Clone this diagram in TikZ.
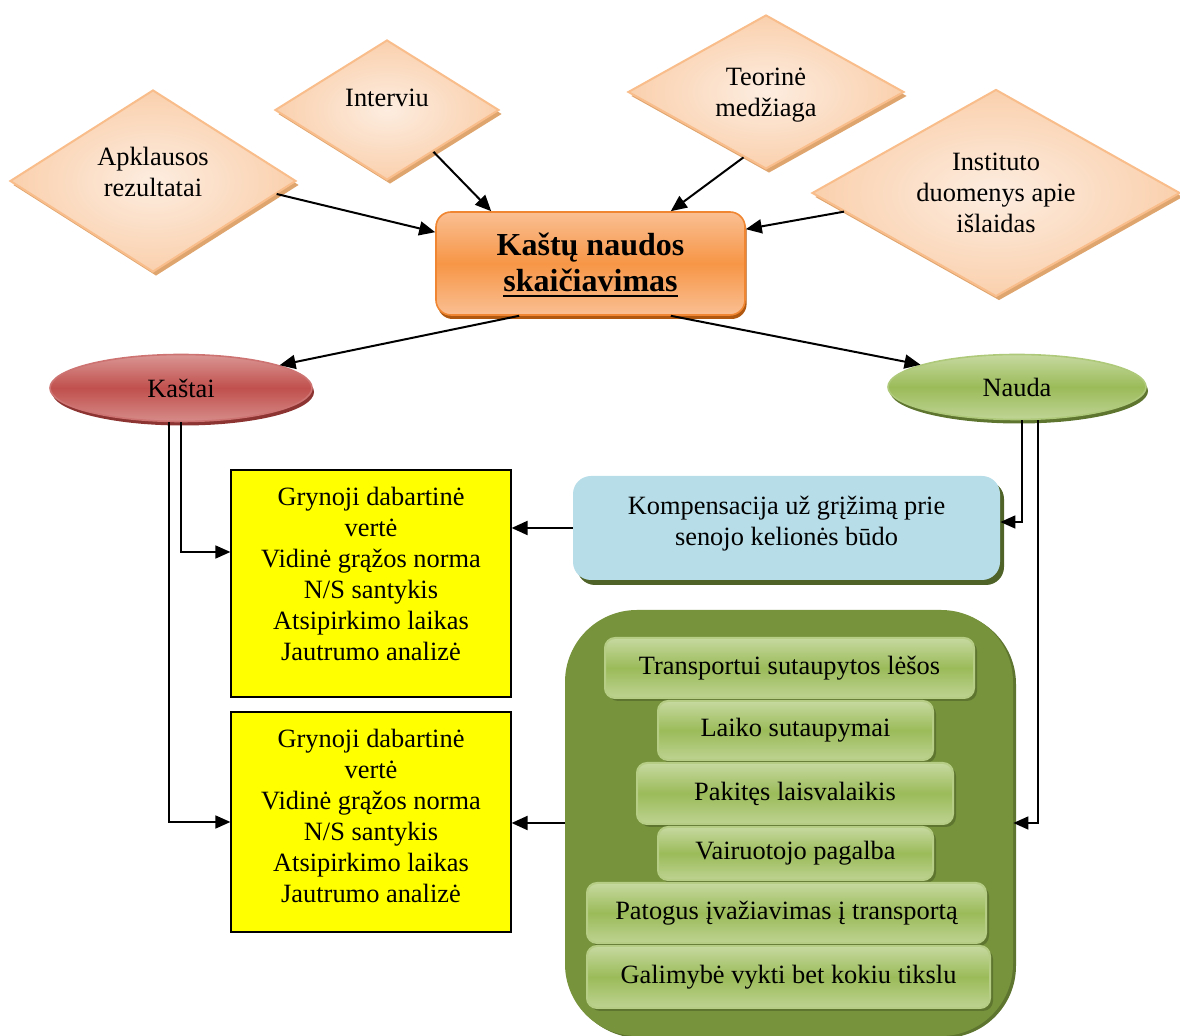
\documentclass[tikz,border=0pt]{standalone}
\usepackage{fontspec}
\setmainfont{Liberation Serif}
\usetikzlibrary{shapes.geometric,shadows,arrows.meta}

\definecolor{peachIn}{HTML}{FDEDE0}
\definecolor{peachOut}{HTML}{FAD0AD}
\definecolor{peachLine}{HTML}{F8BD8A}
\definecolor{peachShadow}{HTML}{DFA56F}
\definecolor{orangeMid}{HTML}{F79646}
\definecolor{orangeLight}{HTML}{FABF93}
\definecolor{orangeLine}{HTML}{F08631}
\definecolor{orangeShadow}{HTML}{B0580F}
\definecolor{redMid}{HTML}{C0504D}
\definecolor{redLight}{HTML}{DA9694}
\definecolor{redShadow}{HTML}{8C3431}
\definecolor{greenMid}{HTML}{9BBB59}
\definecolor{greenLight}{HTML}{C6D9A0}
\definecolor{greenShadow}{HTML}{5E7530}
\definecolor{olive}{HTML}{77933C}
\definecolor{oliveDark}{HTML}{4F6228}
\definecolor{paleBlue}{HTML}{B7DDE8}
\definecolor{yellowBox}{HTML}{FFFF00}

% centred lines shifted vertically without changing the box size
\newcommand\liftup[2]{\raisebox{#1}[\height][\depth]{\begin{tabular}{@{}c@{}}#2\end{tabular}}}
% underline with a heavier rule
\newcommand\thickul[1]{\setbox0\hbox{#1}\rlap{\rule[-2.6pt]{\wd0}{1.1pt}}\box0}

\begin{document}
\begin{tikzpicture}[x=0.5pt,y=-0.5pt,
  every node/.style={font=\fontsize{13.2}{15.5}\selectfont, text=black},
  source/.style={diamond, inner sep=0pt, align=center,
    inner color=peachIn, outer color=peachOut, draw=peachLine, line width=1pt,
    general shadow={fill=peachShadow, shadow xshift=1.5pt, shadow yshift=-2pt}},
  oval/.style={ellipse, inner sep=0pt, line width=0.8pt,
    general shadow={fill=#1, shadow xshift=1pt, shadow yshift=-2pt}},
  ybox/.style={rectangle, fill=yellowBox, draw=black, line width=0.6pt,
    minimum width=140pt, align=center, inner sep=0pt},
  item/.style={rectangle, rounded corners=5pt, inner sep=0pt,
    top color=greenLight, bottom color=greenLight!80!greenMid, middle color=greenMid,
    draw=greenLight!60!greenMid, line width=1pt,
    general shadow={fill=greenShadow, shadow xshift=1.5pt, shadow yshift=-1.5pt}},
  link/.style={line width=1pt, -{Triangle[length=8pt,width=7pt]}},
  thinlink/.style={line width=0.8pt, -{Triangle[length=7.5pt,width=6.5pt]}}]

\useasboundingbox (0,0) rectangle (1180,1036);

% data sources
\node[source, aspect=1.57, minimum width=143pt, minimum height=91pt] (apk) at (153,181)
  {\liftup{3pt}{Apklausos\\rezultatai}};
\node[source, aspect=1.6, minimum width=112pt, minimum height=70pt] (intv) at (387,110)
  {\liftup{5pt}{Interviu}};
\node[source, aspect=1.79, minimum width=138pt, minimum height=77pt] (teo) at (766,92)
  {\liftup{-1.2pt}{Teorinė\\medžiaga}};
\node[source, aspect=1.79, minimum width=184pt, minimum height=103.5pt] (inst) at (996,193)
  {Instituto\\duomenys apie\\išlaidas};

% central block
\node[rectangle, rounded corners=7.5pt, minimum width=154.5pt, minimum height=51.5pt,
  top color=orangeLight, bottom color=orangeLight, middle color=orangeMid,
  draw=orangeLine, line width=0.8pt, align=center,
  general shadow={fill=orangeShadow, shadow xshift=0.8pt, shadow yshift=-2pt},
  font=\fontsize{16}{18}\selectfont\bfseries] (main) at (590.5,263.5)
  {\liftup{-1.5pt}{Kaštų naudos\\\thickul{skaičiavimas}}};

% costs and benefits
\node[oval=redShadow, minimum width=131pt, minimum height=33.5pt,
  top color=redLight, bottom color=redLight!85!redMid, middle color=redMid,
  draw=redMid!80!white] (kastai) at (181,388) {Kaštai};
\node[oval=greenShadow, minimum width=129pt, minimum height=32.5pt,
  top color=greenLight, bottom color=greenLight!85!greenMid, middle color=greenMid,
  draw=greenMid!80!white] (nauda) at (1017,387) {Nauda};

% evaluation criteria
\node[ybox, minimum height=113.5pt] (y1) at (371,583.5)
  {\liftup{3.5pt}{Grynoji dabartinė\\vertė\\Vidinė grąžos norma\\N/S santykis\\Atsipirkimo laikas\\Jautrumo analizė}};
\node[ybox, minimum height=110pt] (y2) at (371,822)
  {\liftup{1.5pt}{Grynoji dabartinė\\vertė\\Vidinė grąžos norma\\N/S santykis\\Atsipirkimo laikas\\Jautrumo analizė}};

% compensation
\node[rectangle, rounded corners=9pt, fill=paleBlue, minimum width=213.5pt, minimum height=52pt,
  inner sep=0pt, general shadow={fill=oliveDark, shadow xshift=2pt, shadow yshift=-2.5pt}]
  (comp) at (786.5,528) {\liftup{2.2pt}{Kompensacija už grįžimą prie\\senojo kelionės būdo}};

% benefit list
\node[rectangle, rounded corners=36pt, fill=olive, minimum width=224pt, minimum height=213pt,
  inner sep=0pt, general shadow={fill=greenShadow, shadow xshift=1.5pt, shadow yshift=-1pt}]
  (benefits) at (789,823) {};
\node[item, minimum width=184.5pt, minimum height=30pt] (b1) at (789.5,668) {Transportui sutaupytos lėšos};
\node[item, minimum width=137.5pt, minimum height=29.5pt] (b2) at (795.5,730.5) {Laiko sutaupymai};
\node[item, minimum width=158pt, minimum height=30.5pt] (b3) at (795,793.5) {Pakitęs laisvalaikis};
\node[item, minimum width=137.5pt, minimum height=26.5pt] (b4) at (795.5,853.5) {Vairuotojo pagalba};
\node[item, minimum width=199.5pt, minimum height=30pt] (b5) at (786.5,913) {Patogus įvažiavimas į transportą};
\node[item, minimum width=201.5pt, minimum height=31pt] (b6) at (788.5,977) {Galimybė vykti bet kokiu tikslu};

% inputs to the central block
\draw[link] (apk.-6) -- ([yshift=-10.5pt]main.north west);
\draw[link] (intv.-42) -- ([xshift=28pt]main.north west);
\draw[link] (teo.-109) -- ([xshift=-37.5pt]main.north east);
\draw[link] (inst.-173) -- ([yshift=-9pt]main.north east);

% split into costs and benefits
\draw[link] ([xshift=42pt]main.south west) -- (kastai.13);
\draw[link] ([xshift=-37.5pt]main.south east) -- (nauda.167);

% costs feed both criteria blocks
\draw[thinlink] (kastai.south) |- ([yshift=15.75pt]y1.west);
\draw[thinlink] ([xshift=-6pt]kastai.south) |- (y2.west);

% benefits feed compensation and benefit list
\draw[thinlink] ([xshift=2.5pt]nauda.south) |- ([yshift=3pt]comp.east);
\draw[thinlink] ([xshift=10.5pt]nauda.south) |- (benefits.east);

% into the criteria blocks
\draw[link] (comp.west) -- (comp.west -| y1.east);
\draw[link] (benefits.west) -- (benefits.west -| y2.east);
\end{tikzpicture}
\end{document}
